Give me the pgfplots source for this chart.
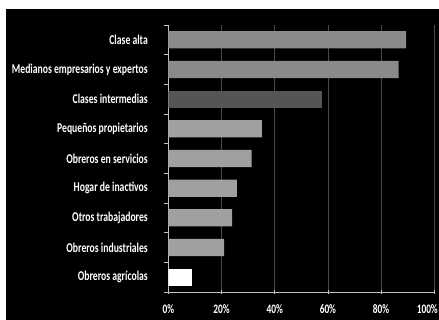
\documentclass[border=0pt]{standalone}
\usepackage{pgfplots}
\pgfplotsset{compat=1.18}
\usepackage{fontspec}
\setmainfont{Carlito}[FakeStretch=0.72]
\definecolor{barmid}{HTML}{8A8A8A}
\definecolor{barlight}{HTML}{A0A0A0}
\definecolor{bardark}{HTML}{555555}
\definecolor{gridc}{HTML}{4A4A4A}
\definecolor{axc}{HTML}{C0C0C0}
\begin{document}
\begin{tikzpicture}
\fill[white] (0,0) rectangle (439bp,320bp);
\fill[black] (6bp,0) rectangle (439bp,311bp);
\begin{axis}[
  at={(168.3bp,28bp)}, anchor=south west,
  scale only axis, width=266bp, height=267bp,
  xmin=0, xmax=100, ymin=-0.5, ymax=8.5,
  axis x line=bottom, axis y line=left,
  axis line style={-, axc, line width=0.8pt},
  xtick={0,20,40,60,80,100},
  xticklabels={0\%,20\%,40\%,60\%,80\%,\makebox[0pt]{\hspace{-14bp}100\%}},
  xtick align=center,
  x tick style={axc, line width=0.8pt},
  major tick length=5bp,
  xmajorgrids, grid style={gridc, line width=0.8pt},
  ytick={0,1,2,3,4,5,6,7,8},
  yticklabels={Obreros agrícolas, Obreros industriales, Otros trabajadores, Hogar de inactivos, Obreros en servicios, Pequeños propietarios, Clases intermedias, Medianos empresarios y expertos, Clase alta},
  y tick style={draw=none},
  extra y ticks={-0.5,0.5,1.5,2.5,3.5,4.5,5.5,6.5,7.5,8.5},
  extra y tick labels={},
  extra y tick style={y tick style={draw=axc, line width=0.8pt}, tick align=outside, major tick length=4bp},
  yticklabel style={xshift=-12bp, font=\bfseries\fontsize{13.5}{14}\selectfont, text=white},
  xticklabel style={yshift=-7bp, font=\bfseries\fontsize{13}{14}\selectfont, text=white},
  /pgf/number format/assume math mode=true,
  xbar, bar width=0.58, bar shift=0,
]
\addplot[draw=none, fill=white] coordinates {(9.0,0)};
\addplot[draw=none, fill=barlight] coordinates {(21.0,1) (24.0,2) (25.8,3) (31.3,4) (35.2,5)};
\addplot[draw=none, fill=bardark] coordinates {(57.6,6)};
\addplot[draw=none, fill=barmid] coordinates {(86.6,7) (89.4,8)};
\end{axis}
\pgfresetboundingbox
\useasboundingbox (0,0) rectangle (439bp,320bp);
\end{tikzpicture}
\end{document}
